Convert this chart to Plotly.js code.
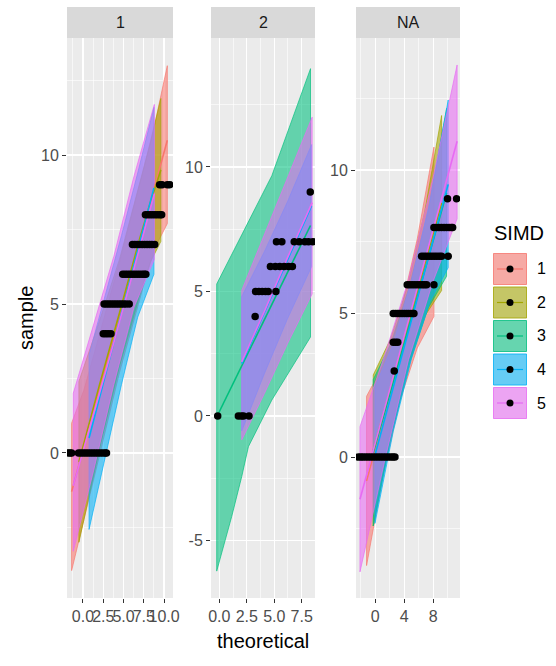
<!DOCTYPE html>
<html>
<head>
<meta charset="utf-8">
<script src="https://cdn.plot.ly/plotly-3.0.1.min.js"></script>
<style>html,body{margin:0;padding:0;background:#fff;}#chart{width:556px;height:666px;}</style>
</head>
<body>
<div id="chart"></div>
<script>
// ---------------- DATA ----------------
const facetLabels = ['1', '2', 'NA'];
const simdLabels = ['1', '2', '3', '4', '5'];
const simdColors = ['#F8766D', '#A3A500', '#00BF7D', '#00B0F6', '#E76BF3'];

// x tick labels per facet
const xTicks1 = [0, 2.5, 5, 7.5, 10];
const xTickText1 = ['0.0', '2.5', '5.0', '7.5', '10.0'];
const xTicks2 = [0, 2.5, 5, 7.5];
const xTickText2 = ['0.0', '2.5', '5.0', '7.5'];
const xTicks3 = [0, 4, 8];
const xTickText3 = ['0', '4', '8'];
const yTicks1 = [0, 5, 10];
const yTicks2 = [-5, 0, 5, 10];
const yTicks3 = [0, 5, 10];

// ---- Facet 1: bands per SIMD group (null = group absent) ----
const f1BandX = [
  [-1.4, 0.1, 1.55, 4.5, 7.45, 8.9, 10.4],
  [-0.5, 2.0, 4.5, 7.0, 8.3, 9.6],
  null,
  [0.75, 2.75, 4.75, 6.75, 8.75],
  [-1.2, 1.3, 3.8, 6.3, 8.8]
];
const f1BandLo = [
  [-3.95, -2.2, -0.6, 2.7, 5.6, 6.9, 7.7],
  [-3.0, 0.1, 2.9, 5.3, 6.4, 7.1],
  null,
  [-2.57, -0.12, 2.3, 4.56, 6.0],
  [-3.3, -0.6, 2.3, 4.9, 6.5]
];
const f1BandHi = [
  [1.0, 2.1, 3.5, 6.4, 9.5, 11.1, 13.0],
  [2.4, 4.4, 6.5, 9.1, 10.4, 11.9],
  null,
  [3.3, 5.3, 7.3, 9.4, 11.6],
  [2.0, 4.3, 6.6, 9.3, 11.7]
];
const f1LineY = [
  [-1.3, 0.2, 1.65, 4.6, 7.55, 9.0, 10.5],
  [-0.3, 2.25, 4.7, 7.2, 8.4, 9.5],
  null,
  [0.5, 2.6, 4.7, 6.8, 8.9],
  [-1.1, 1.3, 3.7, 6.2, 8.7]
];
const f1SampleRows = [0, 4, 5, 6, 7, 8, 9];
const f1TheoreticalRows = [
  [-1.85, -1.6, -1.4, -0.55, -0.25, 0.05, 0.35, 0.65, 0.95, 1.25, 1.55, 1.85, 2.15, 2.45, 2.75, 2.9],
  [2.5, 2.8, 3.1, 3.45],
  [2.6, 2.9, 3.2, 3.5, 3.8, 4.1, 4.4, 4.7, 5.0, 5.3, 5.7],
  [4.9, 5.2, 5.5, 5.8, 6.1, 6.4, 6.7, 7.0, 7.3, 7.55, 7.75],
  [6.1, 6.4, 6.7, 7.0, 7.3, 7.6, 7.9, 8.2, 8.5, 8.85],
  [7.7, 8.0, 8.3, 8.6, 8.9, 9.2, 9.5, 9.7],
  [9.45, 9.75, 10.4, 10.7]
];

// ---- Facet 2 ----
const f2BandX = [
  null,
  null,
  [-0.24, 1.13, 2.04, 2.65, 4.78, 8.3],
  [2.04, 4.1, 6.2, 8.4],
  [2.04, 4.1, 6.2, 8.45]
];
const f2BandLo = [
  null,
  null,
  [-6.23, -4.03, -2.43, -1.23, 0.64, 3.17],
  [-0.6, 1.7, 3.9, 6.0],
  [-0.96, 0.9, 2.9, 4.9]
];
const f2BandHi = [
  null,
  null,
  [5.3, 6.5, 7.3, 7.84, 9.65, 13.95],
  [4.8, 6.6, 8.6, 10.9],
  [5.05, 7.3, 9.6, 12.0]
];
const f2LineY = [
  null,
  null,
  [-0.04, 1.2, 2.02, 2.56, 4.5, 7.65],
  [2.1, 4.15, 6.25, 8.45],
  [2.17, 4.2, 6.35, 8.57]
];
const f2SampleRows = [0, 4, 5, 6, 7, 9];
const f2TheoreticalRows = [
  [-0.15, 1.73, 2.0, 2.2, 2.7],
  [3.26],
  [3.3, 3.6, 3.9, 4.2, 4.45, 5.15],
  [4.65, 5.1, 5.5, 5.9, 6.3, 6.65],
  [5.2, 5.69, 6.82, 7.27, 7.79, 8.12, 8.52],
  [8.28]
];

// ---- Facet 3 (NA) ----
const f3BandX = [
  [-1.2, 1.1, 3.45, 5.8, 8.1],
  [-0.28, 2.08, 4.44, 6.8, 9.16],
  [-0.28, 2.25, 4.78, 7.32, 9.85],
  [-0.04, 2.49, 5.02, 7.54, 10.07],
  [-2.11, 1.24, 4.6, 7.95, 11.3]
];
const f3BandLo = [
  [-3.78, -0.6, 2.0, 3.8, 4.9],
  [-2.4, 0.7, 3.15, 4.9, 5.8],
  [-2.4, 0.8, 3.3, 5.2, 6.3],
  [-2.31, 0.9, 3.45, 5.4, 6.6],
  [-4.0, -0.2, 3.4, 6.1, 8.3]
];
const f3BandHi = [
  [2.12, 3.2, 5.0, 7.6, 10.8],
  [2.86, 4.1, 5.95, 8.5, 11.9],
  [2.7, 4.0, 6.0, 8.6, 12.15],
  [2.45, 3.95, 6.15, 8.9, 12.44],
  [1.06, 3.5, 6.2, 9.7, 13.66]
];
const f3LineY = [
  [-0.83, 1.31, 3.5, 5.7, 7.85],
  [0.23, 2.4, 4.55, 6.7, 8.85],
  [0.15, 2.4, 4.65, 6.9, 9.2],
  [0.07, 2.43, 4.8, 7.15, 9.5],
  [-1.47, 1.65, 4.8, 7.9, 11.0]
];
const f3SampleRows = [0, 3, 4, 5, 6, 7, 8, 9];
const f3TheoreticalRows = [
  [-2.34, -2.0, -1.7, -1.35, -1.0, -0.65, -0.3, 0.05, 0.4, 0.75, 1.1, 1.45, 1.8, 2.15, 2.45, 2.72],
  [2.62],
  [2.48, 2.8, 3.1],
  [2.48, 2.8, 3.1, 3.4, 3.7, 4.0, 4.3, 4.6, 4.9, 5.2, 5.34],
  [4.41, 4.75, 5.1, 5.45, 5.8, 6.15, 6.5, 6.8, 7.09, 8.1],
  [6.4, 6.75, 7.1, 7.45, 7.8, 8.15, 8.5, 8.85, 9.16, 10.07],
  [8.1, 8.45, 8.8, 9.15, 9.5, 9.85, 10.2, 10.5, 10.68],
  [9.98, 11.23]
];

// ---------------- BUILD ----------------
const W = 556, H = 666;
const px = v => v / W;
const py = v => 1 - v / H;

function rgba(hex, a) {
  const n = parseInt(hex.slice(1), 16);
  return 'rgba(' + ((n >> 16) & 255) + ',' + ((n >> 8) & 255) + ',' + (n & 255) + ',' + a + ')';
}

const FILL_ALPHA = 0.58;
const traces = [];

function addFacet(idx, bx, blo, bhi, ly, rows, rowX) {
  const xa = idx === 1 ? 'x' : 'x' + idx;
  const ya = idx === 1 ? 'y' : 'y' + idx;
  // bands
  for (let g = 0; g < 5; g++) {
    if (!bx[g]) continue;
    const xs = bx[g].concat(bx[g].slice().reverse());
    const ys = bhi[g].concat(blo[g].slice().reverse());
    xs.push(xs[0]); ys.push(ys[0]);
    traces.push({
      type: 'scatter', mode: 'lines', x: xs, y: ys, xaxis: xa, yaxis: ya,
      fill: 'toself', fillcolor: rgba(simdColors[g], FILL_ALPHA),
      line: { color: rgba(simdColors[g], 0.85), width: 0.8 },
      hoverinfo: 'skip', showlegend: false
    });
  }
  // qq lines
  for (let g = 0; g < 5; g++) {
    if (!bx[g]) continue;
    traces.push({
      type: 'scatter', mode: 'lines', x: bx[g], y: ly[g], xaxis: xa, yaxis: ya,
      line: { color: simdColors[g], width: 1.6 },
      hoverinfo: 'skip', showlegend: false
    });
  }
  // points
  const xs = [], ys = [];
  rows.forEach((yv, i) => rowX[i].forEach(xv => { xs.push(xv); ys.push(yv); }));
  traces.push({
    type: 'scatter', mode: 'markers', x: xs, y: ys, xaxis: xa, yaxis: ya,
    marker: { color: '#000000', size: 7.5, line: { width: 0 } },
    hoverinfo: 'skip', showlegend: false
  });
}

addFacet(1, f1BandX, f1BandLo, f1BandHi, f1LineY, f1SampleRows, f1TheoreticalRows);
addFacet(2, f2BandX, f2BandLo, f2BandHi, f2LineY, f2SampleRows, f2TheoreticalRows);
addFacet(3, f3BandX, f3BandLo, f3BandHi, f3LineY, f3SampleRows, f3TheoreticalRows);

const panelsPx = [[67, 173], [211, 315], [356, 460]];
const panelTop = 38, panelBottom = 598, stripTop = 7;
const FONT = 'Liberation Sans, Arial, sans-serif';

function xAxis(i, range, tv, tt, minorVals) {
  return {
    domain: [px(panelsPx[i][0]), px(panelsPx[i][1])],
    anchor: i === 0 ? 'y' : 'y' + (i + 1),
    range: range, tickmode: 'array', tickvals: tv, ticktext: tt, tickangle: 0,
    ticks: 'outside', ticklen: 4, tickwidth: 1, tickcolor: '#333333',
    tickfont: { family: FONT, size: 16, color: '#4D4D4D' },
    showgrid: true, gridcolor: '#FFFFFF', gridwidth: 1.3, zeroline: false, showline: false,
    minor: { tickvals: minorVals, showgrid: true, gridcolor: '#FFFFFF', gridwidth: 0.6, ticks: '' },
    fixedrange: true
  };
}
function yAxis(i, range, tv, minorVals) {
  return {
    domain: [py(panelBottom), py(panelTop)],
    anchor: i === 0 ? 'x' : 'x' + (i + 1),
    range: range, tickmode: 'array', tickvals: tv, ticktext: tv.map(String),
    ticks: 'outside', ticklen: 4, tickwidth: 1, tickcolor: '#333333',
    tickfont: { family: FONT, size: 16, color: '#4D4D4D' },
    showgrid: true, gridcolor: '#FFFFFF', gridwidth: 1.3, zeroline: false, showline: false,
    minor: { tickvals: minorVals, showgrid: true, gridcolor: '#FFFFFF', gridwidth: 0.6, ticks: '' },
    fixedrange: true
  };
}

const shapes = [];
const annotations = [];

// facet strips
panelsPx.forEach((p, i) => {
  shapes.push({ type: 'rect', xref: 'paper', yref: 'paper', x0: px(p[0]), x1: px(p[1]),
    y0: py(panelTop), y1: py(stripTop), fillcolor: '#D9D9D9', line: { width: 0 }, layer: 'below' });
  annotations.push({ xref: 'paper', yref: 'paper', x: px((p[0] + p[1]) / 2), y: py((panelTop + stripTop) / 2),
    text: facetLabels[i], showarrow: false, xanchor: 'center', yanchor: 'middle',
    font: { family: FONT, size: 16, color: '#1A1A1A' } });
});

// axis titles
annotations.push({ xref: 'paper', yref: 'paper', x: px(26), y: py(318), text: 'sample', textangle: -90,
  showarrow: false, xanchor: 'center', yanchor: 'middle', font: { family: FONT, size: 20, color: '#000000' } });
annotations.push({ xref: 'paper', yref: 'paper', x: px(263), y: py(641), text: 'theoretical',
  showarrow: false, xanchor: 'center', yanchor: 'middle', font: { family: FONT, size: 20, color: '#000000' } });

// legend (drawn manually like ggplot's)
annotations.push({ xref: 'paper', yref: 'paper', x: px(492), y: py(233), text: 'SIMD',
  showarrow: false, xanchor: 'left', yanchor: 'middle', font: { family: FONT, size: 20, color: '#000000' } });
const keyCenters = [269, 302.5, 336, 369.5, 403];
const keyX0 = 493, keyX1 = 527, keyHalf = 16;
simdLabels.forEach((lab, g) => {
  const cy = keyCenters[g];
  shapes.push({ type: 'rect', xref: 'paper', yref: 'paper', x0: px(keyX0), x1: px(keyX1),
    y0: py(cy + keyHalf), y1: py(cy - keyHalf), fillcolor: '#F2F2F2', line: { width: 0 } });
  shapes.push({ type: 'rect', xref: 'paper', yref: 'paper', x0: px(keyX0 + 0.5), x1: px(keyX1 - 0.5),
    y0: py(cy + keyHalf - 0.5), y1: py(cy - keyHalf + 0.5), fillcolor: rgba(simdColors[g], FILL_ALPHA),
    line: { color: simdColors[g], width: 0.8 } });
  shapes.push({ type: 'line', xref: 'paper', yref: 'paper', x0: px(keyX0 + 4), x1: px(keyX1 - 4),
    y0: py(cy), y1: py(cy), line: { color: simdColors[g], width: 1.2 } });
  shapes.push({ type: 'circle', xref: 'paper', yref: 'paper', x0: px(510 - 3.5), x1: px(510 + 3.5),
    y0: py(cy + 3.5), y1: py(cy - 3.5), fillcolor: '#000000', line: { width: 0 } });
  annotations.push({ xref: 'paper', yref: 'paper', x: px(535), y: py(cy), text: lab,
    showarrow: false, xanchor: 'left', yanchor: 'middle', font: { family: FONT, size: 16, color: '#000000' } });
});

const layout = {
  width: W, height: H,
  margin: { l: 0, r: 0, t: 0, b: 0, pad: 0 },
  paper_bgcolor: '#FFFFFF', plot_bgcolor: '#EBEBEB',
  showlegend: false,
  xaxis: xAxis(0, [-1.97, 11.1], xTicks1, xTickText1, [-1.25, 1.25, 3.75, 6.25, 8.75]),
  xaxis2: xAxis(1, [-0.76, 8.71], xTicks2, xTickText2, [1.25, 3.75, 6.25]),
  xaxis3: xAxis(2, [-2.66, 11.7], xTicks3, xTickText3, [-2, 2, 6, 10]),
  yaxis: yAxis(0, [-4.87, 13.93], yTicks1, [-2.5, 2.5, 7.5, 12.5]),
  yaxis2: yAxis(1, [-7.31, 15.18], yTicks2, [-2.5, 2.5, 7.5, 12.5]),
  yaxis3: yAxis(2, [-4.91, 14.6], yTicks3, [-2.5, 2.5, 7.5, 12.5]),
  shapes: shapes,
  annotations: annotations
};

Plotly.newPlot('chart', traces, layout, { staticPlot: true, displayModeBar: false });
</script>
</body>
</html>
